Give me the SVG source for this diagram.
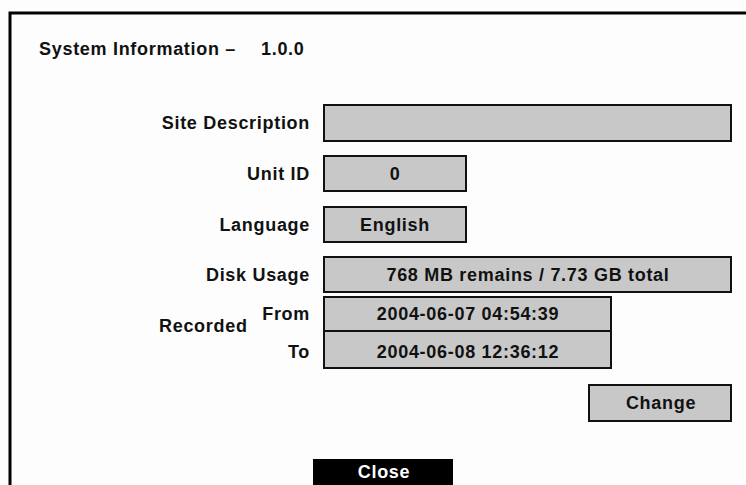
<svg xmlns="http://www.w3.org/2000/svg" width="746" height="485" viewBox="0 0 746 485">
<style>
  text { font-family: "Liberation Sans", Arial, sans-serif; font-weight: bold; font-size: 18px; letter-spacing: 0.7px; fill: #111; }
  .lbl { text-anchor: end; }
  .mid { text-anchor: middle; }
  .box { fill: #c8c8c8; stroke: #111; stroke-width: 2; }
</style>
<rect x="0" y="0" width="746" height="485" fill="#fdfdfd"/>
<g id="frame">
  <path d="M10,485 V13 H746" fill="none" stroke="#000" stroke-width="3"/>
</g>
<g id="title">
  <text x="39" y="55">System Information –</text>
  <text x="261" y="55">1.0.0</text>
</g>
<g id="site-description">
  <text class="lbl" x="310" y="129">Site Description</text>
  <rect class="box" x="324" y="105" width="407" height="36"/>
</g>
<g id="unit-id">
  <text class="lbl" x="310" y="180">Unit ID</text>
  <rect class="box" x="324" y="156" width="142" height="35"/>
  <text class="mid" x="395" y="180">0</text>
</g>
<g id="language">
  <text class="lbl" x="310" y="231">Language</text>
  <rect class="box" x="324" y="207" width="142" height="35"/>
  <text class="mid" x="395" y="231">English</text>
</g>
<g id="disk-usage">
  <text class="lbl" x="310" y="281">Disk Usage</text>
  <rect class="box" x="324" y="257" width="407" height="35"/>
  <text class="mid" x="528" y="281">768 MB remains / 7.73 GB total</text>
</g>
<g id="recorded">
  <text x="159" y="332">Recorded</text>
  <text class="lbl" x="310" y="320">From</text>
  <rect class="box" x="324" y="297" width="287" height="34"/>
  <text class="mid" x="468" y="320">2004-06-07 04:54:39</text>
  <text class="lbl" x="310" y="358">To</text>
  <rect class="box" x="324" y="331" width="287" height="37"/>
  <text class="mid" x="468" y="358">2004-06-08 12:36:12</text>
</g>
<g id="change">
  <rect class="box" x="589" y="385" width="142" height="36"/>
  <text class="mid" x="661" y="409">Change</text>
</g>
<g id="close">
  <rect x="313" y="459" width="140" height="30" fill="#000"/>
  <text class="mid" x="384" y="478" style="fill:#fff">Close</text>
</g>
<g id="connectors"></g>
</svg>
